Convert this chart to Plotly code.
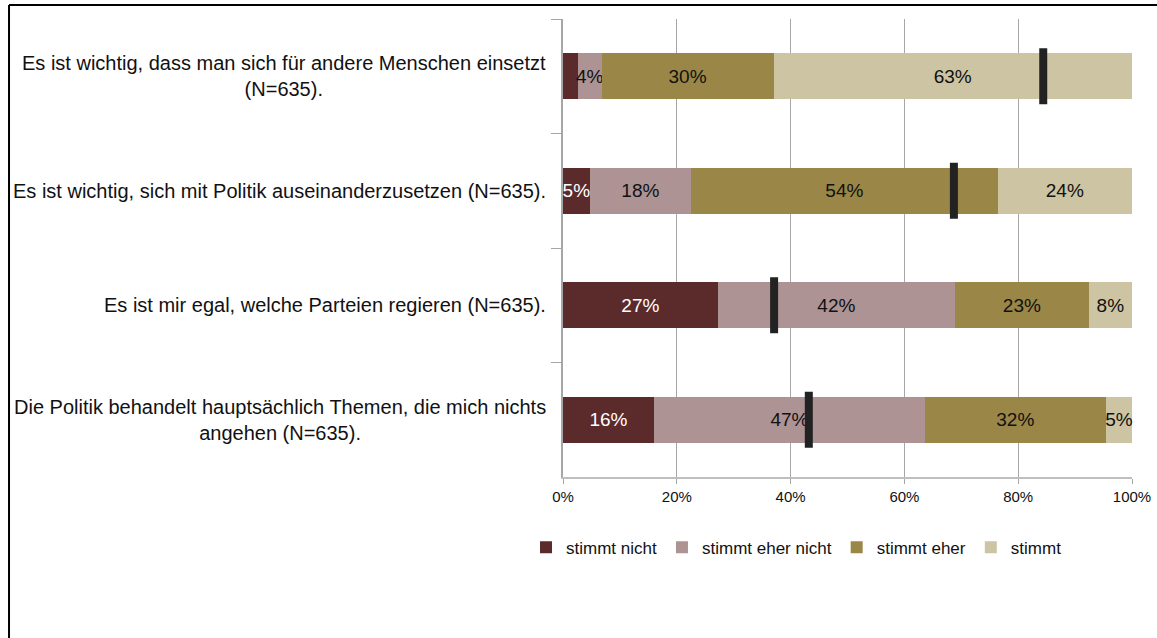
import plotly.graph_objects as go

categories = [
    "Es ist wichtig, dass man sich für andere Menschen einsetzt<br>(N=635).",
    "Es ist wichtig, sich mit Politik auseinanderzusetzen (N=635).",
    "Es ist mir egal, welche Parteien regieren (N=635).",
    "Die Politik behandelt hauptsächlich Themen, die mich nichts<br>angehen (N=635).",
]
series_names = ["stimmt nicht", "stimmt eher nicht", "stimmt eher", "stimmt"]
stimmt_nicht = [2.6, 4.7, 27.2, 16.0]
stimmt_eher_nicht = [4.2, 17.8, 41.7, 47.6]
stimmt_eher = [30.2, 53.9, 23.5, 31.8]
stimmt = [63.0, 23.6, 7.6, 4.6]
labels_nicht = ["", "5%", "27%", "16%"]
labels_eher_nicht = ["4%", "18%", "42%", "47%"]
labels_eher = ["30%", "54%", "23%", "32%"]
labels_stimmt = ["63%", "24%", "8%", "5%"]
means = [84.4, 68.7, 37.1, 43.2]
x_ticks = [0, 20, 40, 60, 80, 100]
x_tick_labels = ["0%", "20%", "40%", "60%", "80%", "100%"]

colors = ["#5B2A2B", "#AD9394", "#9A8646", "#CCC4A2"]
text_colors = ["white", "#111111", "#111111", "#111111"]
values = [stimmt_nicht, stimmt_eher_nicht, stimmt_eher, stimmt]
labels = [labels_nicht, labels_eher_nicht, labels_eher, labels_stimmt]

FONT = "Liberation Sans, Arial, sans-serif"

fig = go.Figure()
for name, vals, lab, col, tcol in zip(series_names, values, labels, colors, text_colors):
    fig.add_trace(go.Bar(
        y=categories, x=vals, name=name, orientation="h",
        marker=dict(color=col, line=dict(width=0)),
        text=lab, textposition="inside", insidetextanchor="middle",
        textangle=0,
        textfont=dict(color=tcol, size=19, family=FONT),
        constraintext="none", cliponaxis=False,
        hoverinfo="skip",
    ))

fig.add_trace(go.Scatter(
    y=categories, x=means, mode="markers", showlegend=False,
    marker=dict(symbol="line-ns", size=40, color="#222222",
                line=dict(width=8, color="#222222")),
    hoverinfo="skip",
))

for cat in categories:
    fig.add_annotation(
        x=0, xref="paper", y=cat, yref="y", text=cat,
        xanchor="right", yanchor="middle", align="center", xshift=-15,
        showarrow=False, font=dict(size=20, family=FONT, color="#111111"),
    )

# outer frame (top and left)
fig.add_shape(type="line", xref="paper", yref="paper",
              x0=-0.9736, x1=1.05, y0=1.0306, y1=1.0306,
              line=dict(color="black", width=2))
fig.add_shape(type="line", xref="paper", yref="paper",
              x0=-0.9736, x1=-0.9736, y0=1.0306, y1=-0.4,
              line=dict(color="black", width=2))

fig.update_layout(
    template="none",
    width=1157, height=638,
    margin=dict(l=563, r=25, t=19, b=161, autoexpand=False),
    barmode="stack", bargap=0.6,
    plot_bgcolor="white", paper_bgcolor="white",
    font=dict(family=FONT, size=16, color="#111111"),
    uniformtext=dict(minsize=19, mode="show"),
    legend=dict(orientation="h", x=-0.065, xanchor="left", y=-0.115, yanchor="top",
                font=dict(size=17, family=FONT, color="#111111"),
                itemwidth=30, traceorder="normal"),
    showlegend=True,
)
fig.update_xaxes(
    range=[0, 100], tickvals=x_ticks, ticktext=x_tick_labels,
    showgrid=True, gridcolor="#a6a6a6", gridwidth=1,
    showline=True, linecolor="#bfbfbf", linewidth=2,
    ticks="outside", ticklen=5, tickcolor="#a6a6a6",
    tickfont=dict(size=15, family=FONT, color="#111111"), zeroline=False,
    automargin=False,
)
fig.update_yaxes(
    autorange="reversed", showticklabels=False,
    showline=True, linecolor="#a6a6a6", linewidth=2,
    ticks="outside", ticklen=10, tickcolor="#a6a6a6", tickson="boundaries",
    showgrid=False, automargin=False, zeroline=False,
)

fig.write_html("out.html")
